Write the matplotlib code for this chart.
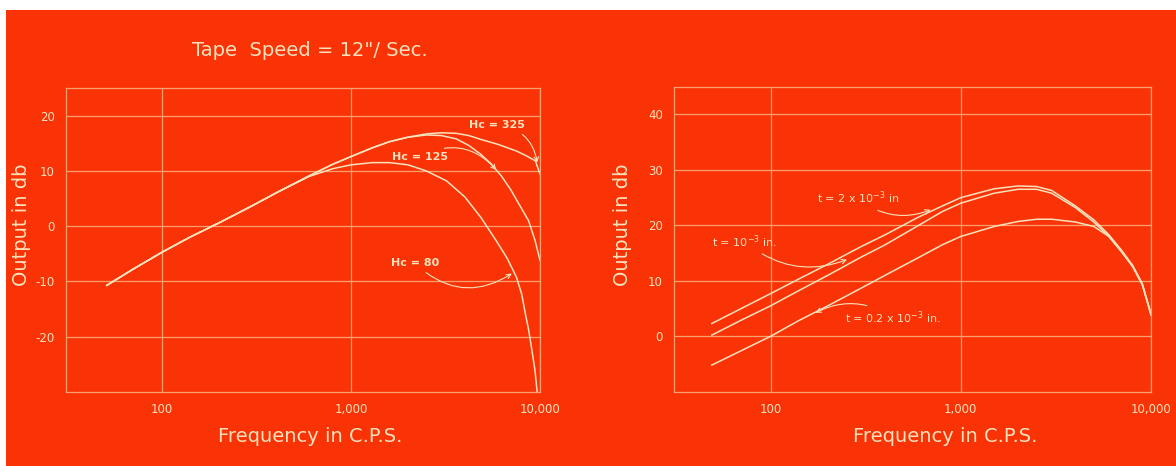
import matplotlib.pyplot as plt
from matplotlib.patches import Rectangle
from matplotlib.ticker import FixedLocator, NullLocator

plt.rcParams['axes.unicode_minus'] = False

# Left panel: output vs frequency for three coercivities (Hc)
hc80_f = [51, 70, 100, 140, 200, 300, 400, 600, 800, 1000, 1300, 1600, 2000,
          2500, 3200, 4000, 4860, 5860, 6700, 7500, 8000, 8360, 8700, 9000, 9400, 9660]
hc80_db = [-10.7, -7.8, -4.7, -2.0, 0.6, 3.7, 6.0, 9.0, 10.4, 11.1, 11.5, 11.5, 11.1,
           10.0, 8.2, 5.3, 1.6, -2.6, -5.8, -9.2, -12.3, -15.8, -18.7, -21.8, -26.0, -30.0]

hc125_f = [51, 70, 100, 140, 200, 300, 400, 600, 800, 1000, 1300, 1600, 2000, 2500,
           3000, 3600, 4200, 4860, 5500, 6240, 7000, 7800, 8700, 9400, 10000]
hc125_db = [-10.7, -7.8, -4.7, -2.0, 0.6, 3.7, 6.0, 9.1, 11.2, 12.6, 14.2, 15.3, 16.1, 16.5,
            16.4, 15.8, 14.6, 13.0, 11.3, 9.1, 6.6, 3.8, 1.0, -2.5, -6.2]

hc325_f = [51, 70, 100, 140, 200, 300, 400, 600, 800, 1000, 1300, 1600, 2000, 2500,
           3000, 3600, 4200, 4860, 6000, 7500, 8500, 9460, 10000]
hc325_db = [-10.7, -7.8, -4.7, -2.0, 0.6, 3.7, 6.0, 9.1, 11.2, 12.6, 14.2, 15.3, 16.1, 16.7,
            16.9, 16.8, 16.4, 15.7, 14.8, 13.6, 12.7, 11.8, 9.4]

# Right panel: output vs frequency for three coating thicknesses (t)
t_f = [49, 70, 100, 140, 200, 300, 400, 600, 800, 1000, 1500, 2000, 2500, 3000,
       4000, 5000, 6000, 7000, 8000, 9000, 10000]
t2_db = [2.3, 5.0, 7.7, 10.3, 13.0, 16.2, 18.3, 21.5, 23.5, 25.0, 26.6, 27.1, 27.0, 26.3,
         23.5, 21.0, 18.3, 15.5, 12.8, 9.5, 4.0]
t1_db = [0.2, 2.9, 5.5, 8.2, 11.0, 14.3, 16.5, 20.0, 22.5, 24.0, 25.8, 26.5, 26.5, 25.8,
         23.2, 20.6, 18.0, 15.2, 12.6, 9.3, 4.0]
t02_db = [-5.2, -2.6, 0.0, 2.8, 5.5, 8.7, 11.0, 14.2, 16.5, 18.0, 19.8, 20.7, 21.1, 21.1,
          20.6, 19.8, 18.0, 15.3, 12.6, 9.3, 3.8]

x_ticks = [100, 1000, 10000]
x_labels = ['100', '1,000', '10,000']
left_yticks = [20, 10, 0, -10, -20]
right_yticks = [40, 30, 20, 10, 0]

BG = '#f93305'
INK = '#fbe2bd'
GRID = '#f7a070'

fig = plt.figure(figsize=(11.76, 4.66), dpi=100, facecolor=BG)
# white paper margin on the left and top edges
fig.patches.append(Rectangle((0, 0), 6 / 1176, 1, transform=fig.transFigure,
                             facecolor='white', edgecolor='none', zorder=-10))
fig.patches.append(Rectangle((0, 1 - 10 / 466), 1, 10 / 466, transform=fig.transFigure,
                             facecolor='white', edgecolor='none', zorder=-10))


def style_axes(ax, yticks, ylim):
    ax.set_facecolor('none')
    ax.set_xscale('log')
    ax.set_xlim(31, 10000)
    ax.set_ylim(*ylim)
    ax.xaxis.set_major_locator(FixedLocator(x_ticks))
    ax.xaxis.set_minor_locator(NullLocator())
    ax.set_xticklabels(x_labels)
    ax.set_yticks(yticks)
    ax.tick_params(length=0, colors=INK, labelsize=8.5, pad=8)
    for s in ax.spines.values():
        s.set_color(GRID)
        s.set_linewidth(0.9)
    ax.grid(True, color=GRID, linewidth=0.9)
    ax.set_axisbelow(True)


line_kw = dict(color=INK, linewidth=1.1)
ann_kw = dict(color=INK, fontsize=8, fontweight='bold', ha='center', va='center')
arrow = dict(arrowstyle='->', color=INK, lw=0.8, connectionstyle='arc3,rad=-0.4')

# Left panel
ax1 = fig.add_axes([66 / 1176, 1 - 392 / 466, 474 / 1176, 304 / 466])
style_axes(ax1, left_yticks, (-30, 25))
ax1.plot(hc325_f, hc325_db, **line_kw)
ax1.plot(hc125_f, hc125_db, **line_kw)
ax1.plot(hc80_f, hc80_db, **line_kw)
ax1.annotate('Hc = 325', xy=(9700, 11.0), xytext=(5930, 18.3), arrowprops=arrow, **ann_kw)
ax1.annotate('Hc = 125', xy=(6000, 9.8), xytext=(2320, 12.6), arrowprops=arrow, **ann_kw)
ax1.annotate('Hc = 80', xy=(7300, -8.3), xytext=(2180, -6.7),
             arrowprops=dict(arrow, connectionstyle='arc3,rad=0.4'), **ann_kw)

# Right panel
ax2 = fig.add_axes([674 / 1176, 1 - 391.7 / 466, 477 / 1176, 305 / 466])
style_axes(ax2, right_yticks, (-10, 45))
ax2.plot(t_f, t2_db, **line_kw)
ax2.plot(t_f, t1_db, **line_kw)
ax2.plot(t_f, t02_db, **line_kw)
ann_kw2 = dict(ann_kw, fontweight='normal')
ax2.annotate('t = 2 x 10$^{-3}$ in', xy=(716, 23.0), xytext=(287, 24.9),
             arrowprops=dict(arrow, connectionstyle='arc3,rad=0.3'), **ann_kw2)
ax2.annotate('t = 10$^{-3}$ in.', xy=(260, 14.0), xytext=(73, 17.1),
             arrowprops=dict(arrow, connectionstyle='arc3,rad=0.3'), **ann_kw2)
ax2.annotate('t = 0.2 x 10$^{-3}$ in.', xy=(167, 4.0), xytext=(440, 3.4),
             arrowprops=dict(arrow, connectionstyle='arc3,rad=0.3'), **ann_kw2)

# Titles and axis labels, placed in figure coordinates
txt = dict(color=INK, ha='center', va='center')
fig.text(310 / 1176, 1 - 50 / 466, 'Tape  Speed = 12"/ Sec.', fontsize=14, **txt)
fig.text(310 / 1176, 1 - 437 / 466, 'Frequency in C.P.S.', fontsize=14, **txt)
fig.text(945 / 1176, 1 - 437 / 466, 'Frequency in C.P.S.', fontsize=14, **txt)
fig.text(22 / 1176, 1 - 225 / 466, 'Output in db', fontsize=14, rotation=90, **txt)
fig.text(622 / 1176, 1 - 225 / 466, 'Output in db', fontsize=14, rotation=90, **txt)

fig.savefig('out.png', dpi=100, facecolor=fig.get_facecolor())
